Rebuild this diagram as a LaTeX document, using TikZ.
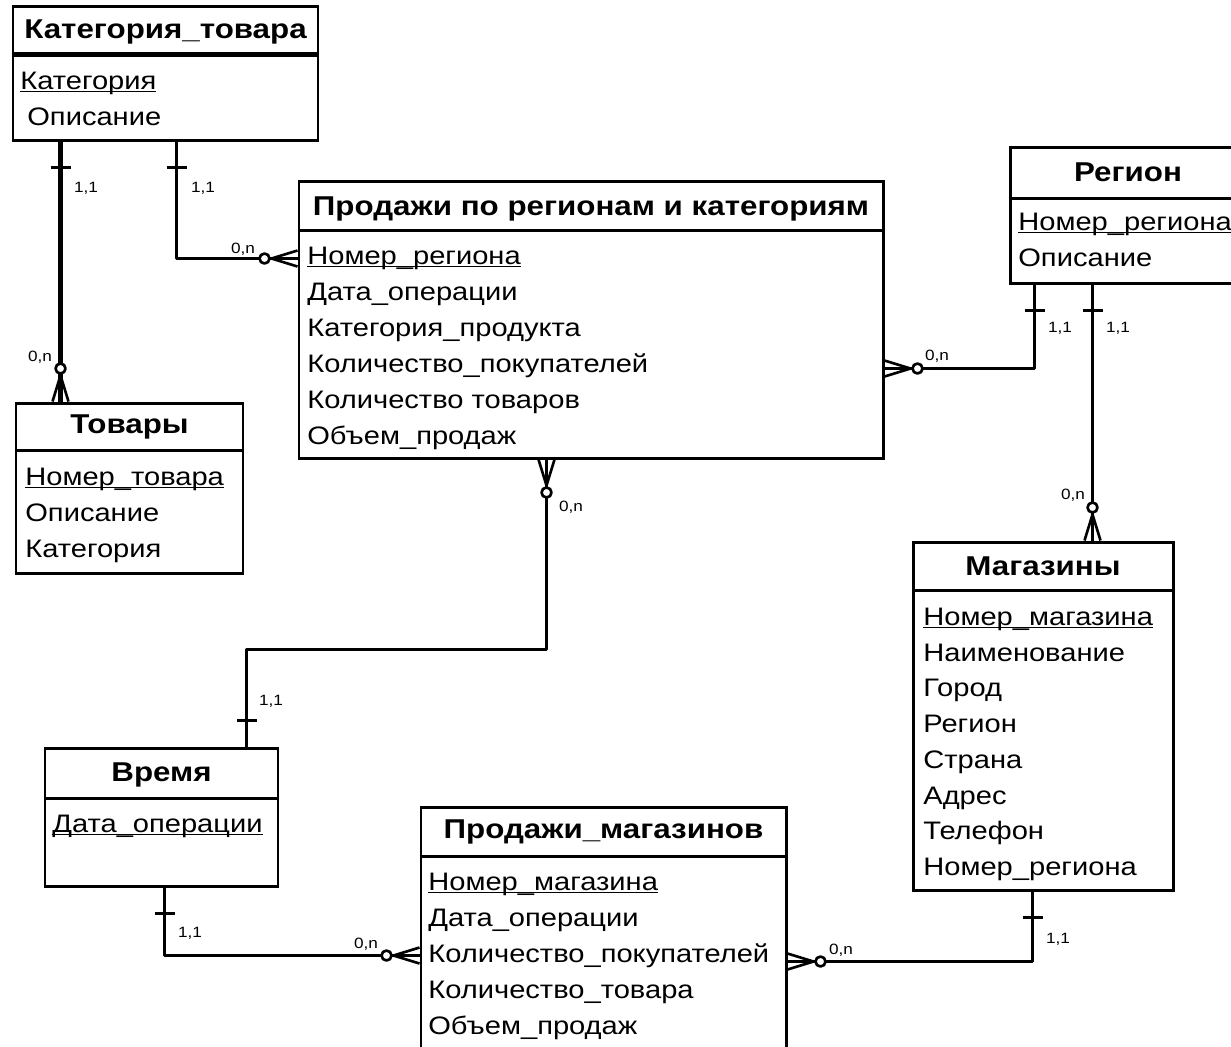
\documentclass[tikz,border=0pt]{standalone}
\usepackage{fontspec}
\setmainfont{Liberation Sans}[FakeStretch=1.15]
\usepackage{tikz}
\usetikzlibrary{calc,fit}
\newcommand{\pkey}[1]{\underline{\smash{#1}}}
\tikzset{
  ent/.style     ={rectangle, draw=black, line width=1.7pt, inner sep=0pt, fill=white},
  entsep/.style  ={draw=black, line width=1.6pt},
  ttl/.style     ={anchor=base, inner sep=0pt, font=\fontsize{15.5}{18}\selectfont\bfseries},
  att/.style     ={anchor=base west, inner sep=0pt, font=\fontsize{14.4}{17}\selectfont},
  lbl/.style     ={inner sep=0pt, font=\fontsize{8.5}{10}\selectfont},
  rel/.style     ={draw=black, line width=1.5pt, line join=round},
  relb/.style    ={rel, line width=2.3pt},
  onemark/.pic   ={\draw[rel] (-26,-10) -- (-26,10);},
  manymark/.pic  ={\draw[rel] (0,8) -- (-26,0) -- (0,-8) (-26,0) -- (0,0);
                   \draw[rel, fill=white] (-33,0) circle (5);},
}

\begin{document}
\begin{tikzpicture}[x=0.02cm, y=-0.02cm]
  \useasboundingbox (0,0) rectangle (1231,1046);
  \clip (0,0) rectangle (1231,1046);

  % entities
  \node[ent, fit={(13,6) (318,140)}] (kat) {};
  \draw[entsep, line width=2.4pt] ($(kat.north west)+(0,50)$) -- ($(kat.north east)+(0,50)$);
  \node[ttl] (kat-t) at ($(kat.north)+(0,34)$) {Категория\_товара};
  \node[att] (kat-a1) at (20,89)  {\pkey{Категория}};
  \node[att] (kat-a2) at (27,125) {Описание};

  \node[ent, fit={(16,403) (243,573)}] (tov) {};
  \draw[entsep] ($(tov.north west)+(0,49)$) -- ($(tov.north east)+(0,49)$);
  \node[ttl] (tov-t) at ($(tov.north)+(0,32)$) {Товары};
  \node[att] (tov-a1) at (25,485) {\pkey{Номер\_товара}};
  \node[att] (tov-a2) at (25,521) {Описание};
  \node[att] (tov-a3) at (25,557) {Категория};

  \node[ent, fit={(299,181) (883,458)}] (prk) {};
  \draw[entsep] ($(prk.north west)+(0,51)$) -- ($(prk.north east)+(0,51)$);
  \node[ttl] (prk-t) at ($(prk.north)+(0,36)$) {Продажи по регионам и категориям};
  \node[att] (prk-a1) at (307,264) {\pkey{Номер\_региона}};
  \node[att] (prk-a2) at (307,300) {Дата\_операции};
  \node[att] (prk-a3) at (307,336) {Категория\_продукта};
  \node[att] (prk-a4) at (307,372) {Количество\_покупателей};
  \node[att] (prk-a5) at (307,408) {Количество товаров};
  \node[att] (prk-a6) at (307,444) {Объем\_продаж};

  \node[ent, fit={(1010,147) (1246,283)}] (reg) {};
  \draw[entsep] ($(reg.north west)+(0,53)$) -- ($(reg.north east)+(0,53)$);
  \node[ttl] (reg-t) at ($(reg.north)+(0,36)$) {Регион};
  \node[att] (reg-a1) at (1018,230) {\pkey{Номер\_региона}};
  \node[att] (reg-a2) at (1018,266) {Описание};

  \node[ent, fit={(913,542) (1173,890)}] (mag) {};
  \draw[entsep] ($(mag.north west)+(0,50)$) -- ($(mag.north east)+(0,50)$);
  \node[ttl] (mag-t) at ($(mag.north)+(0,35)$) {Магазины};
  \node[att] (mag-a1) at (923,625) {\pkey{Номер\_магазина}};
  \node[att] (mag-a2) at (923,661) {Наименование};
  \node[att] (mag-a3) at (923,696) {Город};
  \node[att] (mag-a4) at (923,732) {Регион};
  \node[att] (mag-a5) at (923,768) {Страна};
  \node[att] (mag-a6) at (923,804) {Адрес};
  \node[att] (mag-a7) at (923,839) {Телефон};
  \node[att] (mag-a8) at (923,875) {Номер\_региона};

  \node[ent, fit={(45,748) (278,886)}] (vr) {};
  \draw[entsep] ($(vr.north west)+(0,52)$) -- ($(vr.north east)+(0,52)$);
  \node[ttl] (vr-t) at ($(vr.north)+(0,35)$) {Время};
  \node[att] (vr-a1) at (52,832) {\pkey{Дата\_операции}};

  \node[ent, fit={(421,807) (786,1070)}] (prm) {};
  \draw[entsep] ($(prm.north west)+(0,51)$) -- ($(prm.north east)+(0,51)$);
  \node[ttl] (prm-t) at ($(prm.north)+(0,33)$) {Продажи\_магазинов};
  \node[att] (prm-a1) at (428,890)  {\pkey{Номер\_магазина}};
  \node[att] (prm-a2) at (428,926)  {Дата\_операции};
  \node[att] (prm-a3) at (428,962)  {Количество\_покупателей};
  \node[att] (prm-a4) at (428,998)  {Количество\_товара};
  \node[att] (prm-a5) at (428,1034) {Объем\_продаж};

  % relationships
  \draw[relb] ($(kat.south west)+(49,0)$) -- ($(tov.north west)+(46,0)$);
  \pic[rotate=90]  at ($(kat.south west)+(49,0)$) {onemark};
  \pic[rotate=-90] at ($(tov.north west)+(46,0)$) {manymark};
  \node[lbl] (kt-1) at (86,188) {1,1};
  \node[lbl] (kt-n) at (40,357) {0,n};

  \draw[rel] ($(kat.south west)+(165,0)$) |- ($(prk.north west)+(0,79)$);
  \pic[rotate=90] at ($(kat.south west)+(165,0)$) {onemark};
  \pic at ($(prk.north west)+(0,79)$) {manymark};
  \node[lbl] (kp-1) at (203,188) {1,1};
  \node[lbl] (kp-n) at (243,249) {0,n};

  \draw[rel] ($(reg.south west)+(26,0)$) |- ($(prk.north east)+(0,189)$);
  \pic[rotate=90]  at ($(reg.south west)+(26,0)$) {onemark};
  \pic[rotate=180] at ($(prk.north east)+(0,189)$) {manymark};
  \node[lbl] (rp-1) at (1060,328) {1,1};
  \node[lbl] (rp-n) at (937,356) {0,n};

  \draw[rel] ($(reg.south west)+(84,0)$) -- ($(mag.north west)+(181,0)$);
  \pic[rotate=90]  at ($(reg.south west)+(84,0)$) {onemark};
  \pic[rotate=-90] at ($(mag.north west)+(181,0)$) {manymark};
  \node[lbl] (rm-1) at (1118,328) {1,1};
  \node[lbl] (rm-n) at (1073,495) {0,n};

  \draw[rel] ($(prk.south west)+(249,0)$) -- ++(0,190) -| ($(vr.north west)+(203,0)$);
  \pic[rotate=90]  at ($(prk.south west)+(249,0)$) {manymark};
  \pic[rotate=-90] at ($(vr.north west)+(203,0)$) {onemark};
  \node[lbl] (vp-n) at (571,507) {0,n};
  \node[lbl] (vp-1) at (271,701) {1,1};

  \draw[rel] ($(vr.south west)+(121,0)$) |- ($(prm.north west)+(0,150)$);
  \pic[rotate=90] at ($(vr.south west)+(121,0)$) {onemark};
  \pic at ($(prm.north west)+(0,150)$) {manymark};
  \node[lbl] (vm-1) at (190,933) {1,1};
  \node[lbl] (vm-n) at (366,944) {0,n};

  \draw[rel] ($(mag.south west)+(121,0)$) |- ($(prm.north east)+(0,156)$);
  \pic[rotate=90]  at ($(mag.south west)+(121,0)$) {onemark};
  \pic[rotate=180] at ($(prm.north east)+(0,156)$) {manymark};
  \node[lbl] (mm-1) at (1058,939) {1,1};
  \node[lbl] (mm-n) at (841,950) {0,n};
\end{tikzpicture}
\end{document}
